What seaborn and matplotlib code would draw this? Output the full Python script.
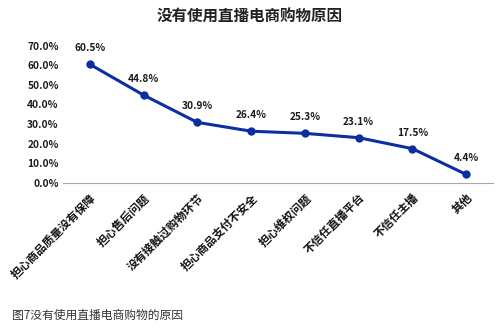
import matplotlib
matplotlib.use("Agg")
import matplotlib.pyplot as plt
import seaborn as sns
import pandas as pd

categories = ["担心商品质量没有保障", "担心售后问题", "没有接触过购物环节", "担心商品支付不安全",
              "担心维权问题", "不信任直播平台", "不信任主播", "其他"]
values = [60.5, 44.8, 30.9, 26.4, 25.3, 23.1, 17.5, 4.4]
yticks = [0, 10, 20, 30, 40, 50, 60, 70]

sns.set_style("white")
plt.rcParams['font.family'] = ['Noto Sans CJK SC', 'DejaVu Sans']

df = pd.DataFrame({"cat": categories, "val": values})
fig = plt.figure(figsize=(4.99, 3.28), dpi=100)
ax = fig.add_axes([0.126, 0.442, 0.862, 0.419])
color = "#0B2FA3"
sns.lineplot(data=df, x="cat", y="val", ax=ax, color=color, linewidth=2.2,
             marker="o", markersize=6, markeredgewidth=0, sort=False)
ax.set_xlim(-0.5, len(categories) - 0.5)
ax.set_ylim(0, 70)
ax.set_yticks(yticks)
ax.set_yticklabels([f"{v:.1f}%" for v in yticks], fontsize=7.3, fontweight="bold",
                   color="#1a1a1a")
ax.set_xticks(range(len(categories)))
ax.set_xticklabels(categories, rotation=45, ha="right", rotation_mode="anchor",
                   fontsize=8.2, fontweight="bold", color="#111111")
ax.tick_params(axis="both", length=0, pad=3)
ax.tick_params(axis="x", pad=6)
for s in ["top", "right", "left"]:
    ax.spines[s].set_visible(False)
ax.spines["bottom"].set_color("#AAAAAA")
ax.spines["bottom"].set_linewidth(0.8)
ax.set_xlabel("")
ax.set_ylabel("")
for i, v in enumerate(values):
    ax.annotate(f"{v}%", (i, v), xytext=(0, 8), textcoords="offset points",
                ha="center", va="bottom", fontsize=7.3, fontweight="bold", color="#1a1a1a")
fig.text(0.5, 0.95, "没有使用直播电商购物原因", ha="center", va="center",
         fontsize=11.2, fontweight="bold", color="#222222")
fig.text(0.024, 0.04, "图7没有使用直播电商购物的原因", ha="left", va="center",
         fontsize=8.5, color="#333333")
fig.savefig("out.png", dpi=100)
